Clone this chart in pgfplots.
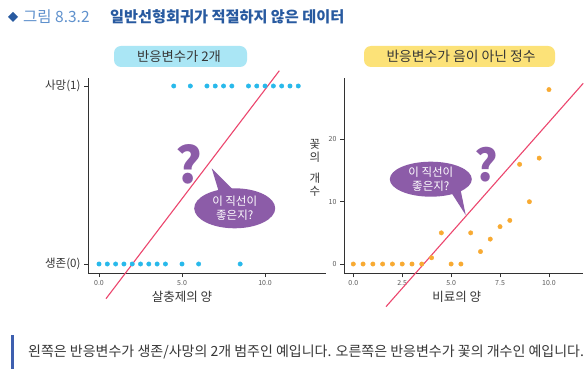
\documentclass[border=0pt]{standalone}
\usepackage{fontspec}
\setmainfont{Noto Sans CJK KR}
\usepackage{pgfplots}
\pgfplotsset{compat=1.18}
\definecolor{dotblue}{RGB}{40,185,235}
\definecolor{dotorange}{RGB}{248,170,50}
\definecolor{fitred}{RGB}{236,70,110}
\definecolor{bubble}{RGB}{140,92,168}
\definecolor{boxcyan}{RGB}{170,230,245}
\definecolor{boxyellow}{RGB}{252,226,120}
\definecolor{titleblue}{RGB}{40,90,160}
\definecolor{lightblue}{RGB}{95,145,205}
\definecolor{textgray}{RGB}{55,55,55}
\definecolor{axisgray}{RGB}{50,50,50}
\definecolor{barblue}{RGB}{62,95,175}
\begin{document}
\begin{tikzpicture}
\path[use as bounding box, fill=white] (0pt,0pt) rectangle (588pt,375pt);
% title
\fill[titleblue] (8pt,358pt) -- (13pt,363pt) -- (18pt,358pt) -- (13pt,353pt) -- cycle;
\node[anchor=west, inner sep=0pt, text=lightblue, font=\fontsize{15.5}{16}\selectfont] at (23pt,358pt) {그림 8.3.2};
\node[anchor=west, inner sep=0pt, text=titleblue, font=\fontsize{15.2}{16}\selectfont\bfseries] at (110pt,358pt) {일반선형회귀가 적절하지 않은 데이터};
% panel titles
\fill[boxcyan, rounded corners=7pt] (114pt,308pt) rectangle (247pt,329pt);
\node[text=textgray, font=\fontsize{13.3}{14}\selectfont] at (179pt,318.5pt) {반응변수가 2개};
\fill[boxyellow, rounded corners=7pt] (364pt,308pt) rectangle (555pt,329pt);
\node[text=textgray, font=\fontsize{13.8}{14}\selectfont] at (461pt,318.5pt) {반응변수가 음이 아닌 정수};

% left axis
\begin{axis}[at={(88pt,102pt)}, anchor=south west, scale only axis,
  width=238pt, height=195pt,
  xmin=-0.663, xmax=13.67, ymin=-0.0506, ymax=1.045,
  axis x line*=bottom, axis y line*=left,
  axis line style={axisgray, line width=0.7pt},
  xtick={0,5,10}, xticklabels={0.0,5.0,10.0},
  ytick={0,1}, yticklabels={생존(0),사망(1)},
  tick align=outside, major tick length=4pt,
  tick style={axisgray, line width=0.6pt},
  x tick label style={font=\fontsize{7}{8}\selectfont, text=black!65},
  y tick label style={font=\fontsize{11.5}{12}\selectfont, text=textgray},
  clip=false]
\addplot[only marks, mark=*, mark size=2.2pt, color=dotblue] coordinates {
 (0,0) (0.5,0) (1,0) (1.5,0) (2,0) (2.5,0) (3,0) (3.5,0) (4,0) (5,0) (6,0) (8.5,0)
 (4.5,1) (5.5,1) (6.5,1) (7,1) (7.5,1) (8,1) (9,1) (9.5,1) (10,1) (10.5,1) (11,1) (11.5,1) (12,1)};
\addplot[fitred, line width=1.1pt] coordinates {(0.42,-0.195) (10.86,1.086)};
\end{axis}

% right axis
\begin{axis}[at={(344pt,101.7pt)}, anchor=south west, scale only axis,
  width=239pt, height=195.3pt,
  xmin=-0.475, xmax=11.74, ymin=-1.49, ymax=29.86,
  axis x line*=bottom, axis y line*=left,
  axis line style={axisgray, line width=0.7pt},
  xtick={0,2.5,5,7.5,10}, xticklabels={0.0,2.5,5.0,7.5,10.0},
  ytick={0,10,20}, yticklabels={0,10,20},
  tick align=outside, major tick length=4pt,
  tick style={axisgray, line width=0.6pt},
  x tick label style={font=\fontsize{7}{8}\selectfont, text=black!65},
  y tick label style={font=\fontsize{7}{8}\selectfont, text=black!65},
  clip=false]
\addplot[only marks, mark=*, mark size=2.2pt, color=dotorange] coordinates {
 (0,0) (0.5,0) (1,0) (1.5,0) (2,0) (2.5,0) (3,0) (3.5,0) (4,1) (4.5,5) (5,0) (5.5,0)
 (6,5) (6.5,2) (7,4) (7.5,6) (8,7) (8.5,16) (9,10) (9.5,17) (10,28)};
\addplot[fitred, line width=1.1pt] coordinates {(1.67,-6.85) (11.75,29.0)};
\end{axis}

% axis labels
\node[text=textgray, font=\fontsize{12.5}{13}\selectfont] at (182pt,78pt) {살충제의 양};
\node[text=textgray, font=\fontsize{12.5}{13}\selectfont] at (456.7pt,78.3pt) {비료의 양};
\node[text=textgray, font=\fontsize{11.5}{12.5}\selectfont, align=center, inner sep=0pt] at (315pt,207pt) {꽃\\의\\[9pt]개\\수};

% bubbles
\fill[bubble] (218.3pt,185pt) -- (233.3pt,185pt) -- (211.7pt,206.7pt) -- cycle;
\fill[bubble] (234.7pt,166.7pt) ellipse (40.5pt and 20pt);
\node[text=white, align=center, font=\fontsize{11.5}{14}\selectfont] at (234.7pt,166.7pt) {이 직선이\\좋은지?};
\node[text=bubble, font=\fontsize{50}{50}\selectfont\bfseries] at (189pt,211pt) {?};

\fill[bubble] (449pt,186pt) -- (460pt,188pt) -- (465.7pt,160pt) -- cycle;
\fill[bubble] (430.8pt,195.8pt) ellipse (41pt and 17.5pt);
\node[text=white, align=center, font=\fontsize{11.5}{13.5}\selectfont] at (430.8pt,195.8pt) {이 직선이\\좋은지?};
\node[text=bubble, font=\fontsize{44}{44}\selectfont\bfseries] at (486.7pt,210.7pt) {?};

% caption
\fill[barblue] (11pt,6pt) rectangle (13.5pt,40pt);
\node[anchor=west, inner sep=0pt, text=textgray, font=\fontsize{14}{15}\selectfont] at (28pt,23pt) {왼쪽은 반응변수가 생존/사망의 2개 범주인 예입니다. 오른쪽은 반응변수가 꽃의 개수인 예입니다.};
\end{tikzpicture}
\end{document}
